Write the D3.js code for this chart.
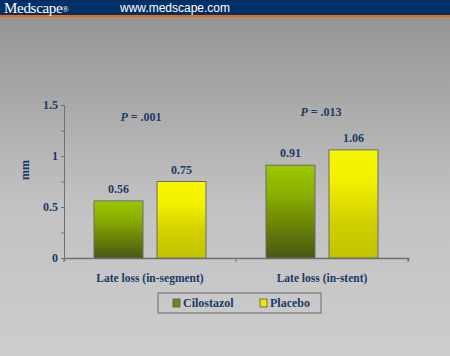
<!DOCTYPE html>
<html><head><meta charset="utf-8">
<script src="https://cdn.jsdelivr.net/npm/d3@7"></script>
<style>body{margin:0;padding:0;background:#ccc;}svg{display:block;}</style>
</head><body>
<script>
const categories = ["Late loss (in-segment)", "Late loss (in-stent)"];
const seriesNames = ["Cilostazol", "Placebo"];
const cilostazol = [0.56, 0.91];
const placebo = [0.75, 1.06];
const pLabels = ["P = .001", "P = .013"];
const yTicks = [0, 0.5, 1, 1.5];

const W = 450, H = 356;
const svg = d3.select("body").append("svg").attr("width", W).attr("height", H);
const defs = svg.append("defs");

const bg = defs.append("linearGradient").attr("id","bg").attr("x1",0).attr("y1",0).attr("x2",0).attr("y2",1);
bg.append("stop").attr("offset","0%").attr("stop-color","#959595");
bg.append("stop").attr("offset","55%").attr("stop-color","#c2c2c2");
bg.append("stop").attr("offset","100%").attr("stop-color","#cdcdcd");

const gC = defs.append("linearGradient").attr("id","gC").attr("x1",0).attr("y1",0).attr("x2",0).attr("y2",1);
gC.append("stop").attr("offset","0%").attr("stop-color","#9cc800");
gC.append("stop").attr("offset","30%").attr("stop-color","#8cb000");
gC.append("stop").attr("offset","65%").attr("stop-color","#6a8408");
gC.append("stop").attr("offset","100%").attr("stop-color","#485814");

const gP = defs.append("linearGradient").attr("id","gP").attr("x1",0).attr("y1",0).attr("x2",0).attr("y2",1);
gP.append("stop").attr("offset","0%").attr("stop-color","#f6f600");
gP.append("stop").attr("offset","30%").attr("stop-color","#f2f000");
gP.append("stop").attr("offset","65%").attr("stop-color","#d2d000");
gP.append("stop").attr("offset","100%").attr("stop-color","#c0c400");

svg.append("rect").attr("x",0).attr("y",17).attr("width",W).attr("height",H-17).attr("fill","url(#bg)");
svg.append("rect").attr("x",0).attr("y",0).attr("width",W).attr("height",15).attr("fill","#003068");
svg.append("rect").attr("x",0).attr("y",15).attr("width",W).attr("height",2).attr("fill","#ff6600");
svg.append("text").attr("x",4).attr("y",12.5).attr("fill","#fff")
  .attr("font-family","Liberation Serif, serif").attr("font-size",15).attr("letter-spacing",-0.3).text("Medscape");
svg.append("text").attr("x",62).attr("y",12).attr("fill","#fff")
  .attr("font-family","Liberation Serif, serif").attr("font-size",9).text("®");
svg.append("text").attr("x",120).attr("y",12).attr("fill","#fff")
  .attr("font-family","Liberation Sans, Arial, sans-serif").attr("font-size",12).text("www.medscape.com");

const navy = "#1c3a66";
const serif = "Liberation Serif, Times New Roman, serif";

const x0 = 64, x1 = 408, yTop = 105, yBot = 258;
const x = d3.scaleBand().domain(categories).range([x0, x1]);
const y = d3.scaleLinear().domain([0, 1.5]).range([yBot, yTop]);
const barW = 49, gap = 14;

// axes
const yAxis = d3.axisLeft(y).tickValues(d3.range(0, 1.51, 0.25)).tickSize(3).tickFormat(d => yTicks.includes(d) ? d3.format("")(d) : "");
const gy = svg.append("g").attr("transform",`translate(${x0},0)`).call(yAxis);
gy.select(".domain").attr("stroke","#707070");
gy.selectAll(".tick line").attr("stroke","#707070");
gy.selectAll(".tick text").attr("fill",navy).attr("font-family",serif).attr("font-weight","bold").attr("font-size",12).attr("x",-6);

const xAxis = d3.axisBottom(x).tickSize(3).tickFormat("");
const gx = svg.append("g").attr("transform",`translate(0,${yBot})`).call(xAxis);
gx.select(".domain").attr("stroke","#707070").attr("stroke-width",1.5);
gx.selectAll(".tick").remove();
[x0, x(categories[1]), x1].forEach(v => {
  svg.append("line").attr("x1",v).attr("x2",v).attr("y1",yBot).attr("y2",yBot+4).attr("stroke","#707070");
});

// bars
const series = [{name: seriesNames[0], vals: cilostazol, fill: "url(#gC)"}, {name: seriesNames[1], vals: placebo, fill: "url(#gP)"}];
series.forEach((s, si) => {
  categories.forEach((c, ci) => {
    const cx = x(c) + x.bandwidth()/2;
    const bx = si === 0 ? cx - gap/2 - barW : cx + gap/2;
    const v = s.vals[ci];
    svg.append("rect").attr("x",bx).attr("y",y(v)).attr("width",barW).attr("height",yBot - y(v))
      .attr("fill",s.fill).attr("stroke","#6a6a6a").attr("stroke-width",1);
    svg.append("text").attr("x",bx + barW/2).attr("y",y(v) - 8).attr("text-anchor","middle")
      .attr("fill",navy).attr("font-family",serif).attr("font-weight","bold").attr("font-size",12).text(v.toFixed(2));
  });
});

// P labels
const pY = [121, 116];
const pX = [141, 321];
pLabels.forEach((p, i) => {
  const t = svg.append("text").attr("x",pX[i]).attr("y",pY[i]).attr("text-anchor","middle")
    .attr("fill",navy).attr("font-family",serif).attr("font-weight","bold").attr("font-size",12);
  t.append("tspan").attr("font-style","italic").text("P");
  t.append("tspan").text(p.slice(1));
});

// category labels
categories.forEach(c => {
  svg.append("text").attr("x",x(c) + x.bandwidth()/2).attr("y",282).attr("text-anchor","middle")
    .attr("fill",navy).attr("font-family",serif).attr("font-weight","bold").attr("font-size",11.5).text(c);
});

// y label
svg.append("text").attr("transform","translate(29,170) rotate(-90)").attr("text-anchor","middle")
  .attr("fill",navy).attr("font-family",serif).attr("font-weight","bold").attr("font-size",12).text("mm");

// legend
svg.append("rect").attr("x",158).attr("y",293).attr("width",163).attr("height",20)
  .attr("fill","none").attr("stroke","#6a6a6a").attr("stroke-width",1);
const legX = [173, 260];
series.forEach((s, i) => {
  svg.append("rect").attr("x",legX[i]).attr("y",299).attr("width",7).attr("height",8)
    .attr("fill", i === 0 ? "#6f8a10" : "#eaea00").attr("stroke","#555").attr("stroke-width",0.8);
  svg.append("text").attr("x",legX[i] + 10).attr("y",307).attr("fill",navy).attr("font-family",serif)
    .attr("font-weight","bold").attr("font-size",12).text(s.name);
});
</script>
</body></html>
